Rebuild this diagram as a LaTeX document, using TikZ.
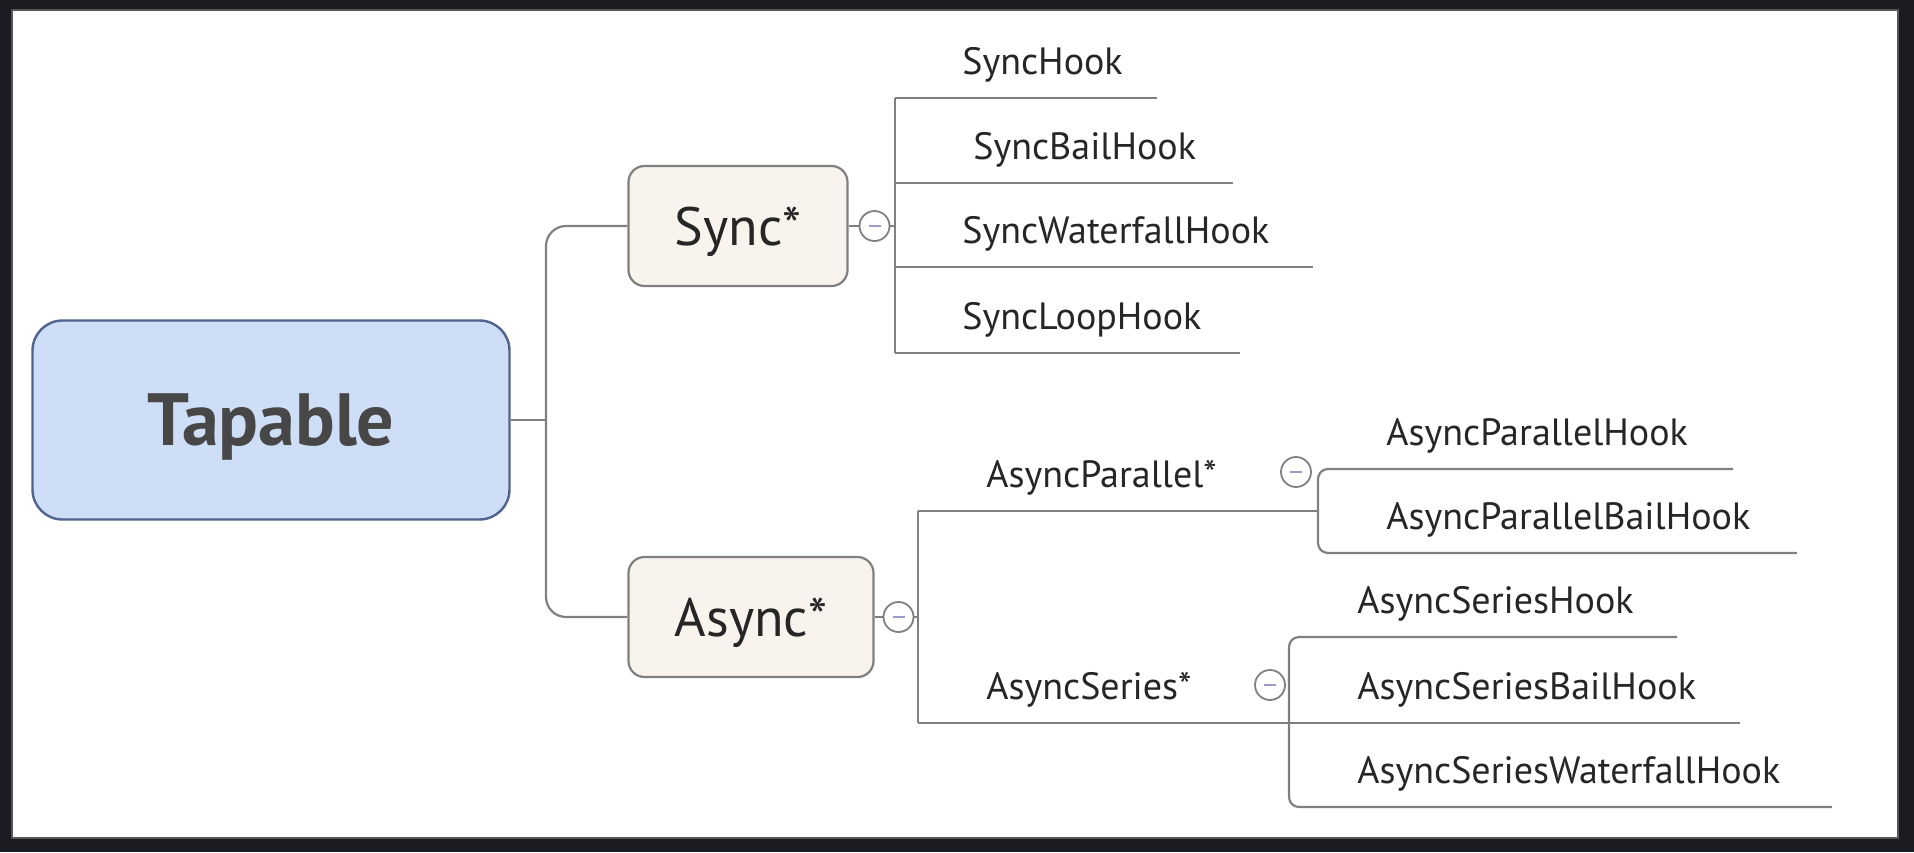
\documentclass[tikz,border=0pt]{standalone}
\usepackage{fontspec}
\setmainfont{PT Sans}
\usetikzlibrary{positioning}
\definecolor{framebg}{HTML}{1B1C21}
\definecolor{rootfill}{HTML}{CEDEF6}
\definecolor{rootline}{HTML}{50648F}
\definecolor{branchfill}{HTML}{F8F3EC}
\definecolor{linegray}{HTML}{808080}
\definecolor{textdark}{HTML}{262626}

\begin{document}
\begin{tikzpicture}[
  x=0.5pt, y=-0.5pt,
  root/.style={draw=rootline, line width=1.2pt, fill=rootfill, rounded corners=15pt, minimum width=238.5pt, minimum height=99.5pt, text depth=0pt, font=\fontsize{37}{42}\selectfont\bfseries, text=black!72},
  branch/.style={draw=linegray, line width=1.1pt, fill=branchfill, rounded corners=8pt, minimum height=60pt, text depth=0pt, font=\fontsize{27}{31}\selectfont, text=textdark},
  leaf/.style={anchor=base west, inner sep=0pt, font=\fontsize{19}{23}\selectfont, text=textdark},
  fold/.style={circle, draw=linegray, fill=white, line width=0.9pt, minimum size=15pt, inner sep=0pt,
    path picture={\draw[linegray!70!blue!60, line width=0.8pt] ([xshift=-3pt]path picture bounding box.center) -- ([xshift=3pt]path picture bounding box.center);}},
  conn/.style={draw=linegray, line width=1.1pt}
]
\useasboundingbox (0,0) rectangle (1914,852);
\fill[framebg] (0,0) rectangle (1914,852);
\fill[white] (12,10) rectangle (1898,838);
\draw[framebg!75!white, line width=1pt] (12,10) rectangle (1898,838);

\node[root] (tap) at (271,420) {Tapable};
\node[branch, minimum width=109.5pt] (sync) at (738,226) {Sync*};
\node[branch, minimum width=122.5pt] (async) at (751,617) {Async*};
\node[fold, right=5pt of sync] (syncfold) {};
\node[fold, right=4pt of async] (asyncfold) {};

\coordinate (trunk) at (546,420);
\draw[conn] (tap.east) -- (trunk);
\draw[conn, rounded corners=10pt] (sync.west) -| (trunk) |- (async.west);

% sync hooks
\coordinate (sb) at (895,226);
\draw[conn] (sync.east) -- (syncfold.west);
\draw[conn] (syncfold.east) -- (sb);
\foreach \name/\y/\xt/\xe [count=\i] in {SyncHook/98/962/1157, SyncBailHook/183/973/1233,
    SyncWaterfallHook/267/962/1313, SyncLoopHook/353/962/1240} {
  \coordinate (s\i) at (895,\y);
  \coordinate (se\i) at (\xe,\y);
  \node[leaf] (sh\i) at (\xt,{\y-24}) {\name};
  \draw[conn] (s\i) -- (se\i);
}
\draw[conn] (s1) -- (s4);

% async hooks
\coordinate (a1) at (918,511);
\coordinate (a2) at (918,723);
\draw[conn] (async.east) -- (asyncfold.west);
\draw[conn] (asyncfold.east) -- (asyncfold.east -| a1);
\draw[conn] (a1) -- (a2);

\node[leaf] (apar) at (986,487) {AsyncParallel*};
\node[fold] (aparfold) at (1296,472) {};
\coordinate (pb) at (1318,511);
\coordinate (pe1) at (1733,469);
\coordinate (pe2) at (1797,553);
\draw[conn] (a1) -- (pb);
\draw[conn, rounded corners=5pt] (pe1) -| (pb) |- (pe2);
\node[leaf] (ph1) at (1386,445) {AsyncParallelHook};
\node[leaf] (ph2) at (1386,529) {AsyncParallelBailHook};

\node[leaf] (aser) at (986,699) {AsyncSeries*};
\node[fold] (aserfold) at (1270,685) {};
\coordinate (qe1) at (1677,637);
\coordinate (qb3) at (1289,807);
\coordinate (qe2) at (1740,723);
\coordinate (qe3) at (1832,807);
\draw[conn] (a2) -- (qe2);
\draw[conn, rounded corners=5pt] (qe1) -| (qb3) -- (qe3);
\node[leaf] (qh1) at (1357,613) {AsyncSeriesHook};
\node[leaf] (qh2) at (1357,699) {AsyncSeriesBailHook};
\node[leaf] (qh3) at (1357,783) {AsyncSeriesWaterfallHook};
\end{tikzpicture}
\end{document}
